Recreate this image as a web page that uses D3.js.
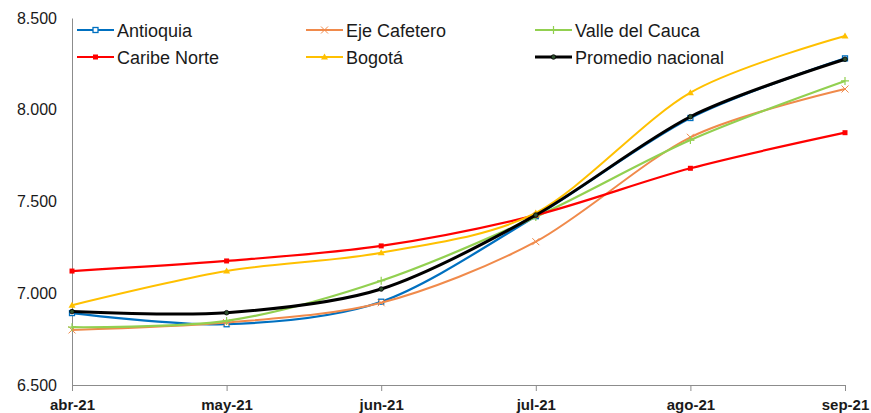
<!DOCTYPE html>
<html>
<head>
<meta charset="utf-8">
<script src="https://cdn.jsdelivr.net/npm/d3@7"></script>
<style>
  body { margin: 0; background: #fff; }
  text { font-family: "Liberation Sans", Arial, sans-serif; fill: #1a1a1a; }
</style>
</head>
<body>
<div id="chart"></div>
<script>
const months = ["abr-21", "may-21", "jun-21", "jul-21", "ago-21", "sep-21"];
const yTicks = [6500, 7000, 7500, 8000, 8500];

const antioquia = [6892, 6831, 6954, 7420, 7955, 8280];
const ejeCafetero = [6800, 6840, 6948, 7281, 7850, 8113];
const valleCauca = [6815, 6849, 7068, 7416, 7835, 8157];
const caribeNorte = [7121, 7176, 7258, 7426, 7681, 7875];
const bogota = [6935, 7121, 7221, 7438, 8093, 8402];
const promedio = [6900, 6894, 7023, 7426, 7962, 8275];

const series = [
    { name: "Antioquia", values: antioquia, color: "#0070C0", marker: "squareOpen", width: 2.2 },
    { name: "Eje Cafetero", values: ejeCafetero, color: "#F08A4B", marker: "cross", width: 2 },
    { name: "Valle del Cauca", values: valleCauca, color: "#92D050", marker: "plus", width: 2.2 },
    { name: "Caribe Norte", values: caribeNorte, color: "#FF0000", marker: "square", width: 2.2 },
    { name: "Bogotá", values: bogota, color: "#FFC000", marker: "triangle", width: 2 },
    { name: "Promedio nacional", values: promedio, color: "#000000", marker: "circle", width: 3 }
];

// legend is laid out in 3 columns x 2 rows
const legendOrder = ["Antioquia", "Eje Cafetero", "Valle del Cauca", "Caribe Norte", "Bogotá", "Promedio nacional"];

const W = 871, H = 413;
const margin = { top: 18, right: 26, bottom: 28, left: 72 };
const width = W - margin.left - margin.right,
    height = H - margin.top - margin.bottom;

const svg = d3.select("#chart")
    .append("svg")
    .attr("width", W)
    .attr("height", H);

const g = svg.append("g")
    .attr("transform", `translate(${margin.left},${margin.top})`);

const x = d3.scalePoint()
    .domain(months)
    .range([0, width]);

const y = d3.scaleLinear()
    .domain([6500, 8500])
    .range([height, 0]);

// y axis, thousands with a dot
const yAxis = g.append("g")
    .call(d3.axisLeft(y).tickValues(yTicks).tickSize(0).tickPadding(15)
        .tickFormat(d => (d / 1000).toFixed(3)));
yAxis.selectAll("text")
    .style("font-size", "16px");
yAxis.select(".domain").attr("stroke", "#8c8c8c");

// x axis
const xAxis = g.append("g")
    .attr("transform", `translate(0, ${height})`)
    .call(d3.axisBottom(x).tickSizeInner(6).tickSizeOuter(0).tickPadding(8));
xAxis.selectAll("text")
    .style("font-size", "15px")
    .style("font-weight", "bold");
xAxis.selectAll("line").attr("stroke", "#8c8c8c");
xAxis.select(".domain").attr("stroke", "#8c8c8c");

const line = d3.line()
    .x((d, i) => x(months[i]))
    .y(d => y(d))
    .curve(d3.curveCardinal.tension(0.1));

function drawMarker(sel, s, cx, cy) {
    const c = s.color;
    if (s.marker === "squareOpen") {
        sel.append("rect").attr("x", cx - 2.5).attr("y", cy - 2.5).attr("width", 5).attr("height", 5)
            .attr("fill", "#fff").attr("stroke", c).attr("stroke-width", 1.3);
    } else if (s.marker === "square") {
        sel.append("rect").attr("x", cx - 2.5).attr("y", cy - 2.5).attr("width", 5).attr("height", 5)
            .attr("fill", c);
    } else if (s.marker === "cross") {
        sel.append("path").attr("d", `M${cx - 3.5},${cy - 3.5}L${cx + 3.5},${cy + 3.5}M${cx - 3.5},${cy + 3.5}L${cx + 3.5},${cy - 3.5}`)
            .attr("stroke", c).attr("stroke-width", 1).attr("fill", "none");
    } else if (s.marker === "plus") {
        sel.append("path").attr("d", `M${cx - 4},${cy}L${cx + 4},${cy}M${cx},${cy - 4}L${cx},${cy + 4}`)
            .attr("stroke", c).attr("stroke-width", 1.2).attr("fill", "none");
    } else if (s.marker === "triangle") {
        sel.append("path").attr("d", `M${cx},${cy - 3.5}L${cx + 3.5},${cy + 2.5}L${cx - 3.5},${cy + 2.5}Z`)
            .attr("fill", c);
    } else if (s.marker === "circle") {
        sel.append("circle").attr("cx", cx).attr("cy", cy).attr("r", 2.3)
            .attr("fill", "#2f4f2f").attr("stroke", "#000").attr("stroke-width", 0.8);
    }
}

// lines
series.forEach(s => {
    const sg = g.append("g");
    sg.append("path")
        .attr("fill", "none")
        .attr("stroke", s.color)
        .attr("stroke-width", s.width)
        .attr("d", line(s.values));
    s.values.forEach((v, i) => drawMarker(sg, s, x(months[i]), y(v)));
});

// legend
const legendCols = [77, 306, 535];
const legendRows = [30, 57];
legendOrder.forEach((name, i) => {
    const s = series.find(d => d.name === name);
    const lx = legendCols[i % 3], ly = legendRows[Math.floor(i / 3)];
    const lg = svg.append("g");
    lg.append("line")
        .attr("x1", lx).attr("x2", lx + 37)
        .attr("y1", ly).attr("y2", ly)
        .attr("stroke", s.color)
        .attr("stroke-width", s.width);
    drawMarker(lg, s, lx + 18.5, ly);
    lg.append("text")
        .attr("x", lx + 40)
        .attr("y", ly + 6.5)
        .style("font-size", "18px")
        .text(name);
});
</script>
</body>
</html>
